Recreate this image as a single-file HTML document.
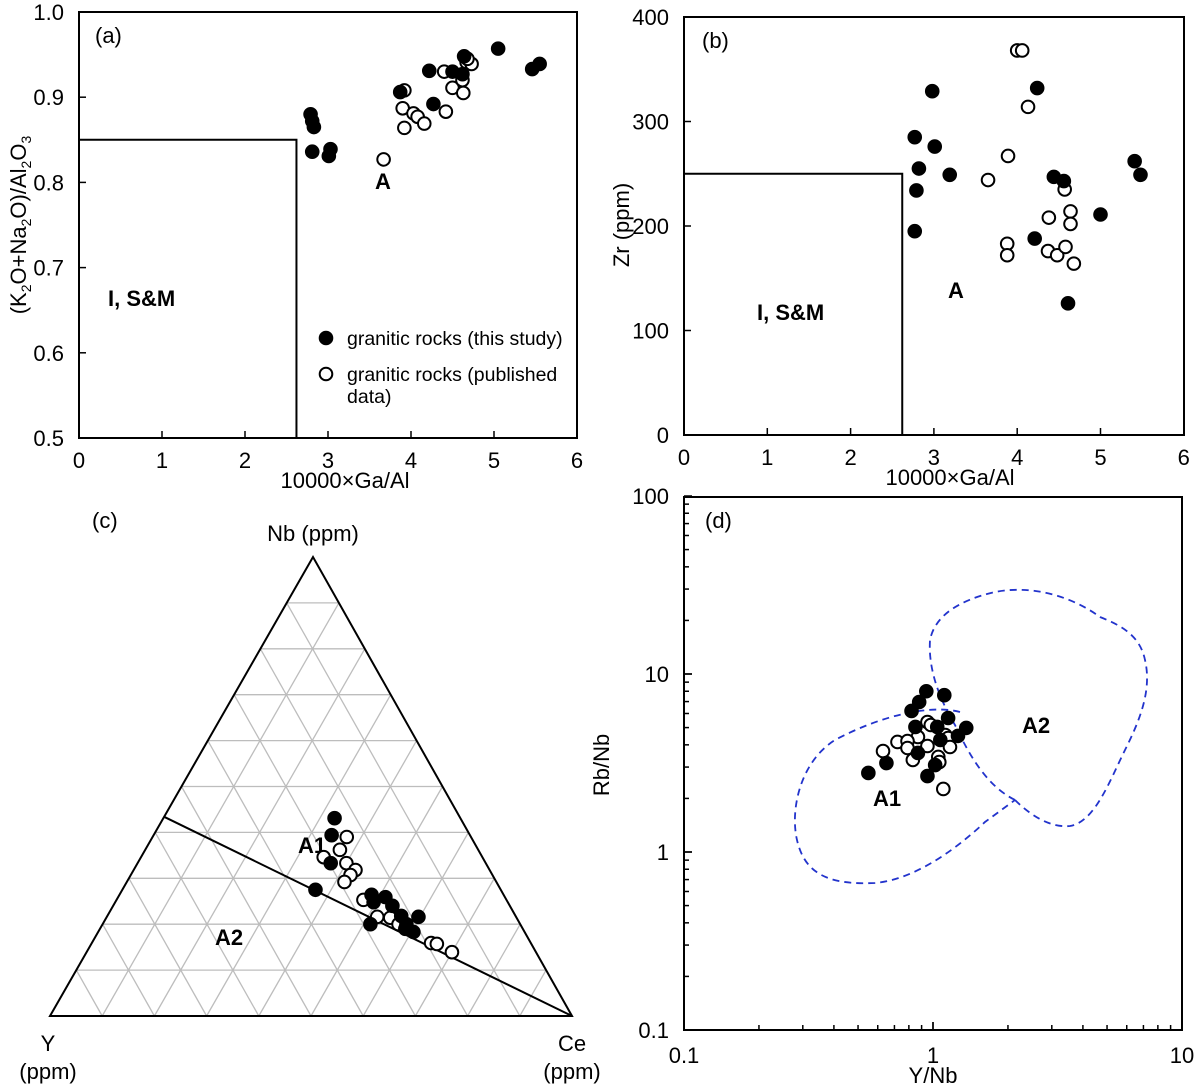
<!DOCTYPE html>
<html><head><meta charset="utf-8"><style>
html,body{margin:0;padding:0;background:#fff}
svg{display:block;font-family:"Liberation Sans",Arial,sans-serif}
</style></head><body>
<svg id="fig" width="1200" height="1086" viewBox="0 0 1200 1086" xmlns="http://www.w3.org/2000/svg"></svg>
<script>
// ---------- Panel (a) data ----------
const aFilledX=[2.79,2.81,2.83,2.81,3.03,3.01,3.87,4.22,4.27,4.50,4.62,4.64,5.05,5.46,5.55];
const aFilledY=[0.880,0.872,0.865,0.836,0.839,0.831,0.906,0.931,0.892,0.930,0.927,0.948,0.957,0.933,0.939];
const aOpenX=[3.67,3.92,3.90,3.92,4.03,4.08,4.16,4.40,4.42,4.50,4.62,4.63,4.67,4.73,4.68];
const aOpenY=[0.827,0.908,0.887,0.864,0.881,0.877,0.869,0.930,0.883,0.911,0.920,0.905,0.941,0.939,0.945];
const aXTicks=[0,1,2,3,4,5,6];
const aYTicks=[0.5,0.6,0.7,0.8,0.9,1.0];
// ---------- Panel (b) data ----------
const bFilledX=[2.77,2.82,2.79,2.77,2.98,3.01,3.19,4.21,4.24,4.44,4.56,4.61,5.00,5.41,5.48];
const bFilledY=[285,255,234,195,329,276,249,188,332,247,243,126,211,262,249];
const bOpenX=[3.65,3.89,3.88,3.88,4.00,4.06,4.13,4.38,4.37,4.48,4.58,4.57,4.64,4.64,4.68];
const bOpenY=[244,267,183,172,368,368,314,208,176,172,180,235,214,202,164];
const bXTicks=[0,1,2,3,4,5,6];
const bYTicks=[0,100,200,300,400];
// ---------- Panel (c) ternary data (fractions) ----------
const cFilledNb=[0.431,0.394,0.333,0.275,0.264,0.248,0.259,0.240,0.200,0.218,0.200,0.190,0.183,0.216];
const cFilledCe=[0.328,0.341,0.370,0.370,0.483,0.495,0.512,0.535,0.513,0.563,0.582,0.585,0.604,0.597];
const cOpenNb=[0.390,0.362,0.346,0.333,0.318,0.307,0.292,0.253,0.216,0.214,0.200,0.159,0.157,0.139];
const cOpenCe=[0.372,0.373,0.350,0.400,0.425,0.421,0.417,0.473,0.518,0.544,0.567,0.650,0.662,0.700];
// ---------- Panel (d) data ----------
const dFilledX=[0.94,1.11,0.88,0.82,1.15,1.36,1.26,0.85,1.04,1.07,0.87,1.02,0.95,0.65,0.55];
const dFilledY=[8.0,7.6,6.96,6.2,5.66,4.98,4.49,5.04,5.04,4.26,3.6,3.08,2.67,3.16,2.78];
const dOpenX=[0.95,0.98,0.87,0.72,0.79,1.12,1.15,0.79,0.95,1.17,0.63,0.83,1.05,1.06,1.10];
const dOpenY=[5.37,5.17,4.43,4.15,4.2,4.54,4.37,3.84,3.94,3.89,3.69,3.29,3.42,3.2,2.26];
const dDecades=[0.1,1,10,100];

const NS="http://www.w3.org/2000/svg";
const svg=document.getElementById('fig');
function mk(tag,attrs,parent){const e=document.createElementNS(NS,tag);for(const k in attrs)e.setAttribute(k,attrs[k]);(parent||svg).appendChild(e);return e;}
function txt(s,x,y,opt,parent){const e=mk('text',Object.assign({x:x,y:y,'font-size':22,fill:'#000'},opt||{}),parent);e.textContent=s;return e;}
function dot(cx,cy,filled,parent){return mk('circle',{cx:cx,cy:cy,r:6.3,fill:filled?'#000':'#fff',stroke:'#000','stroke-width':2},parent);}

// ================= Panel (a) =================
const ga=mk('g',{});


const axX=v=>79+v*83.0, axY=v=>12+(1.0-v)*852;
mk('rect',{x:79,y:12,width:498,height:426,fill:'none',stroke:'#000','stroke-width':2},ga);
aXTicks.forEach(t=>{mk('line',{x1:axX(t),y1:438,x2:axX(t),y2:431,stroke:'#000','stroke-width':1.5},ga);
 const l=txt(String(t),axX(t),468,{'text-anchor':'middle'},ga);});
aYTicks.forEach(t=>{mk('line',{x1:79,y1:axY(t),x2:86,y2:axY(t),stroke:'#000','stroke-width':1.5},ga);
 const l=txt(t.toFixed(1),64,axY(t)+8,{'text-anchor':'end'},ga);});
mk('polyline',{points:`79,${axY(0.85)} ${axX(2.62)},${axY(0.85)} ${axX(2.62)},438`,fill:'none',stroke:'#000','stroke-width':2},ga);
let t1=txt('10000×Ga/Al',345,488,{'text-anchor':'middle'},ga);
const ayt=mk('text',{transform:'translate(26,225) rotate(-90)','text-anchor':'middle','font-size':22},ga);

ayt.innerHTML='(K<tspan font-size="14" dy="5">2</tspan><tspan dy="-5">O+Na</tspan><tspan font-size="14" dy="5">2</tspan><tspan dy="-5">O)/Al</tspan><tspan font-size="14" dy="5">2</tspan><tspan dy="-5">O</tspan><tspan font-size="14" dy="5">3</tspan>';
txt('(a)',95,43,{},ga);
txt('A',375,189,{'font-weight':'bold'},ga);
txt('I, S&M',108,306,{'font-weight':'bold'},ga);
aOpenX.forEach((x,i)=>{const c=dot(axX(x),axY(aOpenY[i]),false,ga);});
aFilledX.forEach((x,i)=>{const c=dot(axX(x),axY(aFilledY[i]),true,ga);});
const lg=mk('g',{},ga);
dot(326,338,true,lg);txt('granitic rocks (this study)',347,345,{'font-size':19.5},lg);
dot(326,374,false,lg);txt('granitic rocks (published',347,381,{'font-size':19.5},lg);txt('data)',347,403,{'font-size':19.5},lg);

// ================= Panel (b) =================
const gb=mk('g',{});


const bxX=v=>684+v*83.3, bxY=v=>435-v*1.045;
mk('rect',{x:684,y:17,width:500,height:418,fill:'none',stroke:'#000','stroke-width':2},gb);
bXTicks.forEach(t=>{mk('line',{x1:bxX(t),y1:435,x2:bxX(t),y2:428,stroke:'#000','stroke-width':1.5},gb);
 const l=txt(String(t),bxX(t),465,{'text-anchor':'middle'},gb);});
bYTicks.forEach(t=>{mk('line',{x1:684,y1:bxY(t),x2:691,y2:bxY(t),stroke:'#000','stroke-width':1.5},gb);
 const l=txt(String(t),669,bxY(t)+8,{'text-anchor':'end'},gb);});
mk('polyline',{points:`684,${bxY(250)} ${bxX(2.62)},${bxY(250)} ${bxX(2.62)},435`,fill:'none',stroke:'#000','stroke-width':2},gb);
let t2=txt('10000×Ga/Al',950,485,{'text-anchor':'middle'},gb);
let t3=mk('text',{transform:'translate(629,225) rotate(-90)','text-anchor':'middle','font-size':22},gb);t3.textContent='Zr (ppm)';

txt('(b)',702,48,{},gb);
txt('A',948,298,{'font-weight':'bold'},gb);
txt('I, S&M',757,320,{'font-weight':'bold'},gb);
bOpenX.forEach((x,i)=>{const c=dot(bxX(x),bxY(bOpenY[i]),false,gb);});
bFilledX.forEach((x,i)=>{const c=dot(bxX(x),bxY(bFilledY[i]),true,gb);});

// ================= Panel (c) ternary =================
const gc=mk('g',{});


const Y0=[50,1016], C0=[572,1016], N0=[313,557];
function tern(nb,ce){const y=1-nb-ce;return [y*Y0[0]+ce*C0[0]+nb*N0[0], y*Y0[1]+ce*C0[1]+nb*N0[1]];}
for(let i=1;i<10;i++){const f=i/10;
 let p=tern(f,0),q=tern(f,1-f);mk('line',{x1:p[0],y1:p[1],x2:q[0],y2:q[1],stroke:'#bdbdbd','stroke-width':1.3},gc);
 p=tern(0,f);q=tern(1-f,f);mk('line',{x1:p[0],y1:p[1],x2:q[0],y2:q[1],stroke:'#bdbdbd','stroke-width':1.3},gc);
 p=tern(0,1-f);q=tern(1-f,0);mk('line',{x1:p[0],y1:p[1],x2:q[0],y2:q[1],stroke:'#bdbdbd','stroke-width':1.3},gc);}
mk('polygon',{points:`${Y0} ${C0} ${N0}`,fill:'none',stroke:'#000','stroke-width':2},gc);
const bl0=tern(0.434,0),bl1=tern(0,1);
const bnd=mk('line',{x1:bl0[0],y1:bl0[1],x2:bl1[0],y2:bl1[1],stroke:'#000','stroke-width':2},gc);

txt('(c)',92,528,{},gc);
txt('Nb (ppm)',313,541,{'text-anchor':'middle'},gc);
txt('Y',48,1051,{'text-anchor':'middle'},gc);
txt('(ppm)',48,1079,{'text-anchor':'middle'},gc);
txt('Ce',572,1051,{'text-anchor':'middle'},gc);
txt('(ppm)',572,1079,{'text-anchor':'middle'},gc);
txt('A1',298,853,{'font-weight':'bold'},gc);
txt('A2',215,945,{'font-weight':'bold'},gc);
cOpenNb.forEach((n,i)=>{const p=tern(n,cOpenCe[i]);const c=dot(p[0],p[1],false,gc);});
cFilledNb.forEach((n,i)=>{const p=tern(n,cFilledCe[i]);const c=dot(p[0],p[1],true,gc);});

// ================= Panel (d) log-log =================
const gd=mk('g',{});


const dxX=v=>684+(Math.log10(v)+1)*249, dxY=v=>1030-(Math.log10(v)+1)*178;
mk('rect',{x:684,y:497,width:498,height:533,fill:'none',stroke:'#000','stroke-width':2},gd);
for(let d=0;d<2;d++){for(let m=1;m<=10;m++){const v=dDecades[d]*m;const x=dxX(v);
 mk('line',{x1:x,y1:1030,x2:x,y2:m===1||m===10?1022:1025,stroke:'#000','stroke-width':1.5},gd);}}
for(let d=0;d<3;d++){for(let m=1;m<=10;m++){const v=dDecades[d]*m;const y=dxY(v);
 mk('line',{x1:684,y1:y,x2:m===1||m===10?692:689,y2:y,stroke:'#000','stroke-width':1.5},gd);}}
['0.1','1','10'].forEach((s,i)=>{const l=txt(s,dxX(dDecades[i]),1063,{'text-anchor':'middle'},gd);});
['0.1','1','10','100'].forEach((s,i)=>{const l=txt(s,669,dxY(dDecades[i])+8,{'text-anchor':'end'},gd);});
txt('Y/Nb',933,1083,{'text-anchor':'middle'},gd);
const dyt=mk('text',{transform:'translate(609,765) rotate(-90)','text-anchor':'middle','font-size':22},gd);dyt.textContent='Rb/Nb';

txt('(d)',705,528,{},gd);
txt('A1',873,806,{'font-weight':'bold'},gd);
txt('A2',1022,733,{'font-weight':'bold'},gd);
const a1=mk('path',{d:'M960,712 C930,704 880,716 835,740 C800,762 790,810 797,840 C805,875 830,885 875,883 C910,880 950,855 985,822 L1015,800',fill:'none',stroke:'#2233cc','stroke-width':1.8,'stroke-dasharray':'7,5'},gd);

const a2=mk('path',{d:'M1015,800 C1030,815 1050,828 1070,826 C1095,822 1110,780 1125,750 C1140,720 1152,690 1145,660 C1140,635 1120,625 1100,617 C1070,595 1030,585 995,592 C960,600 935,615 930,640 C928,670 940,700 955,725 C968,752 985,785 1015,800',fill:'none',stroke:'#2233cc','stroke-width':1.8,'stroke-dasharray':'7,5'},gd);

dOpenX.forEach((x,i)=>{const c=dot(dxX(x),dxY(dOpenY[i]),false,gd);});
dFilledX.forEach((x,i)=>{const c=dot(dxX(x),dxY(dFilledY[i]),true,gd);});
</script>
</body></html>
